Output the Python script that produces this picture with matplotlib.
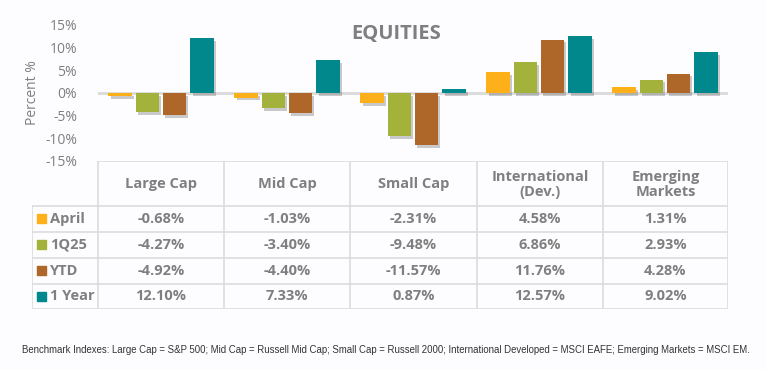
import matplotlib
matplotlib.use("Agg")
import matplotlib.pyplot as plt
import matplotlib.patheffects as pe
from matplotlib.patches import Rectangle

categories = ["Large Cap", "Mid Cap", "Small Cap", "International\n(Dev.)", "Emerging\nMarkets"]
series_names = ["April", "1Q25", "YTD", "1 Year"]
april = [-0.68, -1.03, -2.31, 4.58, 1.31]
q125 = [-4.27, -3.40, -9.48, 6.86, 2.93]
ytd = [-4.92, -4.40, -11.57, 11.76, 4.28]
one_year = [12.10, 7.33, 0.87, 12.57, 9.02]
series_values = [april, q125, ytd, one_year]
colors = ["#FDB01A", "#A3B23A", "#AE6729", "#00888C"]
yticks = [-15, -10, -5, 0, 5, 10, 15]
title = "EQUITIES"
footnote = ("Benchmark Indexes: Large Cap = S&P 500; Mid Cap = Russell Mid Cap; Small Cap = Russell 2000; "
            "International Developed = MSCI EAFE; Emerging Markets = MSCI EM.")

W, H = 766, 370
bg = "#FDFCFE"
grey = "#7F7F7F"
gridc = "#DADADA"

fig = plt.figure(figsize=(W / 100, H / 100), dpi=100, facecolor=bg)

def fx(px):
    return px / W

def fy(py):
    return 1 - py / H

# ---- bar chart axes ----
ax = fig.add_axes([fx(98), fy(161), fx(728) - fx(98), (161 - 25) / H])
ax.set_facecolor("none")
ax.set_xlim(-0.5, len(categories) - 0.5)
ax.set_ylim(-15, 15)
ax.axhline(0, color=gridc, lw=2, zorder=1)
step = 0.217
width = 0.183
offsets = [(-1.5 + i) * step for i in range(len(series_names))]
shadow = [pe.SimplePatchShadow(offset=(1.5, -2), shadow_rgbFace="#444444", alpha=0.28), pe.Normal()]
for vals, off, c in zip(series_values, offsets, colors):
    bars = ax.bar([i + off for i in range(len(categories))], vals, width=width, color=c, zorder=3)
    for b in bars:
        b.set_path_effects(shadow)
ax.set_yticks(yticks)
ax.set_yticklabels([f"{t}%" for t in yticks], color=grey, fontsize=10, family="Open Sans")
ax.tick_params(axis="y", length=0, pad=15)
ax.set_xticks([])
for s in ax.spines.values():
    s.set_visible(False)
ax.set_ylabel("Percent %", color=grey, fontsize=10, family="Open Sans", labelpad=4)

fig.text(fx(396), fy(34), title, ha="center", va="center", color=grey,
         fontsize=14.5, fontweight="bold", family="Open Sans")

# ---- table ----
tx = fig.add_axes([fx(32), fy(309), fx(728) - fx(32), (309 - 161) / H])
tx.set_xlim(32, 728)
tx.set_ylim(309, 161)
tx.axis("off")
tx.set_facecolor("none")
col_edges = [32, 98, 224, 350, 477, 603, 728]
row_edges = [161, 206, 232, 258, 284, 309]
lc = "#DCDCDC"
lw = 1.2
tx.plot([98, 728], [161, 161], color=lc, lw=lw)
for y in row_edges[1:]:
    tx.plot([32, 728], [y, y], color=lc, lw=lw)
tx.plot([32, 32], [206, 309], color=lc, lw=lw)
for x in col_edges[1:]:
    tx.plot([x, x], [161, 309], color=lc, lw=lw)

tfont = dict(family="Open Sans", fontweight="bold", color=grey)
for j, cat in enumerate(categories):
    cx = (col_edges[j + 1] + col_edges[j + 2]) / 2
    tx.text(cx, (row_edges[0] + row_edges[1]) / 2 + 1, cat, ha="center", va="center",
            fontsize=10.5, linespacing=1.15, **tfont)
for i, (name, vals, c) in enumerate(zip(series_names, series_values, colors)):
    cy = (row_edges[i + 1] + row_edges[i + 2]) / 2
    tx.add_patch(Rectangle((37, cy - 4.5), 9, 9, color=c))
    tx.text(50, cy, name, ha="left", va="center", fontsize=10.5, **tfont)
    for j, v in enumerate(vals):
        cx = (col_edges[j + 1] + col_edges[j + 2]) / 2
        tx.text(cx, cy, f"{v:.2f}%", ha="center", va="center", fontsize=10.5, **tfont)

fig.text(fx(22), fy(350), footnote, ha="left", va="center", fontsize=6.9,
         color="#333333", family=["Liberation Sans", "DejaVu Sans"])

fig.savefig("out.png", dpi=100, facecolor=bg)
